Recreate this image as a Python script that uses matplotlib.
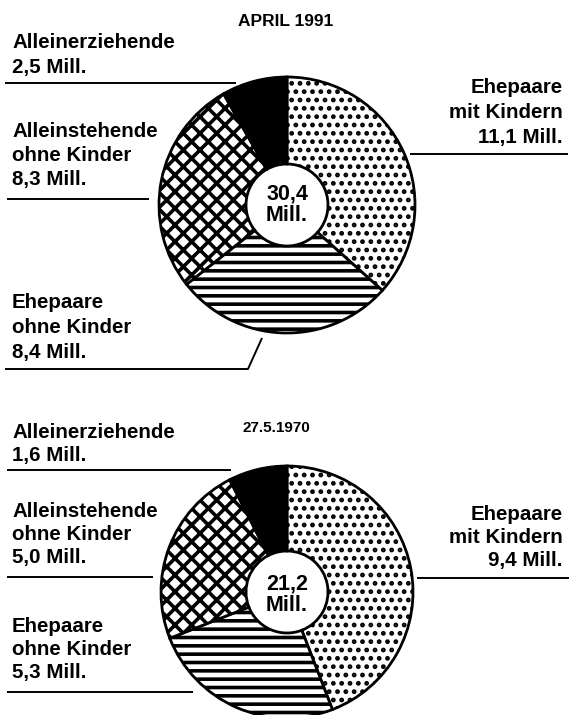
import matplotlib
matplotlib.use("Agg")
import matplotlib.pyplot as plt

# ---------------- data ----------------
categories = ["Ehepaare\nmit Kindern", "Ehepaare\nohne Kinder",
              "Alleinstehende\nohne Kinder", "Alleinerziehende"]
values_1991 = [11.1, 8.4, 8.3, 2.5]
values_1970 = [9.4, 5.3, 5.0, 1.6]
total_1991 = "30,4"
total_1970 = "21,2"
title_1991 = "APRIL 1991"
title_1970 = "27.5.1970"

# ---------------- style ----------------
W, H = 570, 715
FONT = ["Liberation Sans", "DejaVu Sans"]
plt.rcParams["font.family"] = FONT
plt.rcParams["hatch.linewidth"] = 2.4

hatches = ["..", "--", "xx", None]
faces = ["white", "white", "white", "black"]
hatch_lw = [2.2, 2.6, 2.6, 1.0]

fig = plt.figure(figsize=(W / 100, H / 100), dpi=100)
ax = fig.add_axes([0, 0, 1, 1])


def Y(y):
    return H - y


def fmt(v):
    return f"{v:.1f}".replace(".", ",") + " Mill."


def draw_pie(values, cx, cy, r, hole):
    wedges, _ = ax.pie(values, colors=faces, hatch=hatches, startangle=90,
                       counterclock=False, center=(cx, Y(cy)), radius=r,
                       wedgeprops=dict(width=r - hole, edgecolor="black",
                                       linewidth=2.0))
    for w, lw in zip(wedges, hatch_lw):
        if hasattr(w, "set_hatch_linewidth"):
            w.set_hatch_linewidth(lw)
        elif hasattr(w, "_hatch_linewidth"):
            w._hatch_linewidth = lw
    return wedges


def label(lines, x, y0, dy, ha):
    for i, t in enumerate(lines):
        ax.text(x, Y(y0 + i * dy), t, ha=ha, va="baseline",
                fontsize=14.8, fontweight="bold")


def rule(xs, ys):
    ax.plot(xs, [Y(v) for v in ys], color="black", lw=1.4,
            solid_capstyle="butt")


# ---------------- top chart (1991) ----------------
draw_pie(values_1991, 287, 205, 128, 41)
ax.text(287, Y(205), total_1991 + "\nMill.", ha="center", va="center",
        multialignment="center", fontsize=15.5, fontweight="bold",
        linespacing=1.05)
ax.text(286, Y(26), title_1991, ha="center", va="baseline",
        fontsize=12.5, fontweight="bold")

cat = [c.split("\n") for c in categories]
label(cat[3] + [fmt(values_1991[3])], 12, 48, 25, "left")
rule([5, 236], [83, 83])
label(cat[0] + [fmt(values_1991[0])], 563, 93, 25, "right")
rule([410, 568], [154, 154])
label(cat[2] + [fmt(values_1991[2])], 12, 137, 24, "left")
rule([7, 149], [199, 199])
label(cat[1] + [fmt(values_1991[1])], 12, 308, 25, "left")
rule([5, 248, 262], [369, 369, 338])

# ---------------- bottom chart (1970) ----------------
draw_pie(values_1970, 287, 592, 126, 41)
ax.text(287, Y(595), total_1970 + "\nMill.", ha="center", va="center",
        multialignment="center", fontsize=15.5, fontweight="bold",
        linespacing=1.05)
ax.text(276, Y(432), title_1970, ha="center", va="baseline",
        fontsize=11, fontweight="bold")

label(cat[3] + [fmt(values_1970[3])], 12, 438, 23, "left")
rule([7, 231], [470, 470])
label(cat[2] + [fmt(values_1970[2])], 12, 517, 23, "left")
rule([7, 153], [577, 577])
label(cat[0] + [fmt(values_1970[0])], 563, 520, 23, "right")
rule([417, 569], [578, 578])
label(cat[1] + [fmt(values_1970[1])], 12, 632, 23, "left")
rule([7, 193], [692, 692])

ax.set_xlim(0, W)
ax.set_ylim(0, H)
ax.set_aspect("equal")
ax.axis("off")
fig.savefig("out.png", dpi=100, facecolor="white")
